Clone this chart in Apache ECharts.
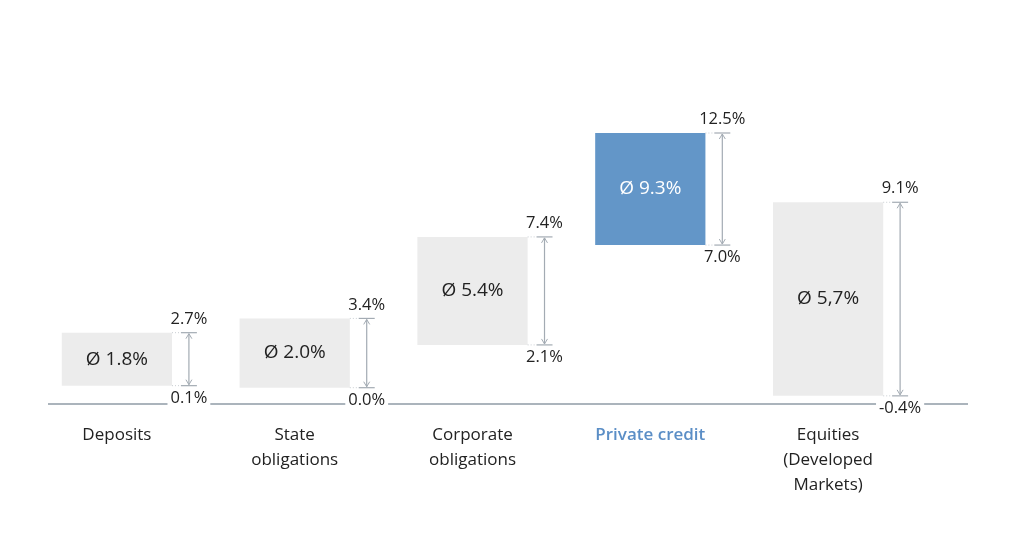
<!DOCTYPE html>
<html>
<head>
<meta charset="utf-8">
<title>Returns by asset class</title>
<script src="https://cdn.jsdelivr.net/npm/echarts@6/dist/echarts.min.js"></script>
<style>
  html, body { margin: 0; padding: 0; background: #fff; }
  #chart { width: 1024px; height: 557px; }
</style>
</head>
<body>
<div id="chart"></div>
<script>
// data
var categories = ['Deposits', 'State\nobligations', 'Corporate\nobligations', 'Private credit', 'Equities\n(Developed\nMarkets)'];
var lows = [0.1, 0.0, 2.1, 7.0, -0.4];
var highs = [2.7, 3.4, 7.4, 12.5, 9.1];
var averages = ['Ø 1.8%', 'Ø 2.0%', 'Ø 5.4%', 'Ø 9.3%', 'Ø 5,7%'];
var highlight = 3; // private credit

var FONT = '"Open Sans", "Noto Sans", sans-serif';
var GREY = '#ececec';
var BLUE = '#6396c8';
var LINE = '#a3abb3';

function fmt(v) {
  return v.toFixed(1) + '%';
}

var seriesData = categories.map(function (c, i) {
  return [i, lows[i], highs[i]];
});

function renderItem(params, api) {
  var i = api.value(0);
  var top = api.coord([i, api.value(2)]);
  var bot = api.coord([i, api.value(1)]);
  var band = api.size([1, 0])[0];
  var cx = top[0];
  var barW = band * 0.62;
  var ax = cx + band * 0.405;   // arrow position
  var capL = cx + band * 0.36;
  var capR = cx + band * 0.45;
  var barR = cx + barW / 2;
  var hl = i === highlight;

  return {
    type: 'group',
    children: [
      {
        type: 'rect',
        shape: { x: cx - barW / 2, y: top[1], width: barW, height: bot[1] - top[1] },
        style: { fill: hl ? BLUE : GREY }
      },
      {
        type: 'text',
        style: {
          x: cx, y: (top[1] + bot[1]) / 2,
          text: averages[i],
          align: 'center', verticalAlign: 'middle',
          fontFamily: FONT, fontSize: 19,
          fill: hl ? '#fff' : '#222'
        }
      },
      // dotted connectors from bar edge to caps
      {
        type: 'line',
        shape: { x1: barR, y1: top[1], x2: capL, y2: top[1] },
        style: { stroke: '#c8cdd2', lineWidth: 1, lineDash: [1, 2] }
      },
      {
        type: 'line',
        shape: { x1: barR, y1: bot[1], x2: capL, y2: bot[1] },
        style: { stroke: '#c8cdd2', lineWidth: 1, lineDash: [1, 2] }
      },
      // caps
      {
        type: 'line',
        shape: { x1: capL, y1: top[1], x2: capR, y2: top[1] },
        style: { stroke: LINE, lineWidth: 1.2 }
      },
      {
        type: 'line',
        shape: { x1: capL, y1: bot[1], x2: capR, y2: bot[1] },
        style: { stroke: LINE, lineWidth: 1.2 }
      },
      // range arrow
      {
        type: 'line',
        shape: { x1: ax, y1: top[1] + 1, x2: ax, y2: bot[1] - 1 },
        style: { stroke: LINE, lineWidth: 1.2 }
      },
      {
        type: 'polyline',
        shape: { points: [[ax - 3, top[1] + 6], [ax, top[1] + 1], [ax + 3, top[1] + 6]] },
        style: { stroke: LINE, lineWidth: 1, fill: null }
      },
      {
        type: 'polyline',
        shape: { points: [[ax - 3, bot[1] - 6], [ax, bot[1] - 1], [ax + 3, bot[1] - 6]] },
        style: { stroke: LINE, lineWidth: 1, fill: null }
      },
      {
        type: 'text',
        style: {
          x: ax, y: top[1] - 5,
          text: fmt(api.value(2)),
          align: 'center', verticalAlign: 'bottom',
          fontFamily: FONT, fontSize: 16.5, fill: '#222'
        }
      },
      {
        type: 'text',
        style: {
          x: ax, y: bot[1] + 4,
          text: fmt(api.value(1)),
          align: 'center', verticalAlign: 'top',
          fontFamily: FONT, fontSize: 16.5, fill: '#222',
          backgroundColor: '#fff', padding: [0, 3]
        }
      }
    ]
  };
}

var chart = echarts.init(document.getElementById('chart'));

chart.setOption({
  backgroundColor: '#fff',
  animation: false,
  grid: { left: 28, right: 107, top: 133, bottom: 153 },
  xAxis: {
    type: 'category',
    data: categories,
    axisLine: { show: false },
    axisTick: { show: false },
    axisLabel: {
      interval: 0,
      margin: 19,
      fontFamily: FONT,
      fontSize: 17,
      lineHeight: 25,
      color: '#222',
      formatter: function (value, index) {
        if (index === highlight) return '{hl|' + value + '}';
        return value;
      },
      rich: {
        hl: { color: '#5b8ec6', fontWeight: 600, fontFamily: FONT, fontSize: 17, lineHeight: 25 }
      }
    }
  },
  yAxis: {
    type: 'value',
    min: -0.8,
    max: 12.5,
    show: false
  },
  graphic: [{
    type: 'line',
    z: 0,
    shape: { x1: 48, y1: 404, x2: 968, y2: 404 },
    style: { stroke: '#8f9ba6', lineWidth: 1.5 }
  }],
  series: [{
    type: 'custom',
    z: 5,
    renderItem: renderItem,
    encode: { x: 0, y: [1, 2] },
    data: seriesData
  }]
});
</script>
</body>
</html>
